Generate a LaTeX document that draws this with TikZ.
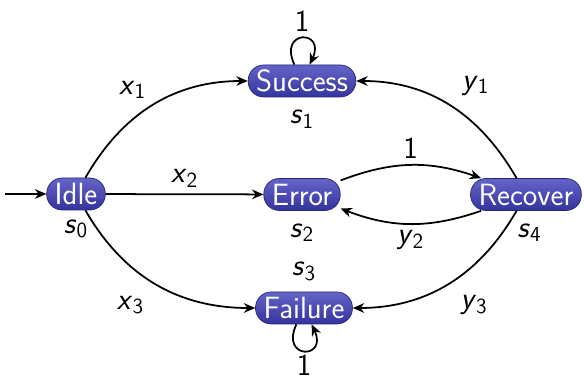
\documentclass[tikz,border=0pt]{standalone}
\usetikzlibrary{arrows.meta, positioning}
\newcommand{\sv}[2]{\textit{#1}\textsubscript{#2}}
\definecolor{sttop}{RGB}{100,100,200}
\definecolor{stbot}{RGB}{52,52,158}
\definecolor{stline}{RGB}{38,38,118}

\begin{document}
\begin{tikzpicture}[
    >={Stealth[length=6.5pt, width=5.5pt]},
    font=\fontsize{17.5}{20}\selectfont\sffamily,
    state/.style={draw=stline, rounded corners=0.31cm, top color=sttop,
                  bottom color=stbot, text=white, minimum height=0.64cm,
                  inner xsep=0.16cm, inner ysep=0pt},
    tag/.style={inner sep=1pt},
    every edge/.style={draw, ->, line width=1pt},
    node distance=6pt
  ]
  \useasboundingbox (0,0) rectangle (11.68,7.62);

  \node[state] (idle) at (1.52,3.74) {Idle};
  \node[state] (success) at (6.04,6.00) {Success};
  \node[state] (error) at (6.04,3.73) {Error};
  \node[state] (recover) at (10.52,3.73) {Recover};
  \node[state] (failure) at (6.08,1.46) {Failure};
  \coordinate (start) at (0.1,3.74);

  \node[tag, below=4pt of idle] (s0) {\sv{s}{0}};
  \node[tag, below=of success] (s1) {\sv{s}{1}};
  \node[tag, below=of error] (s2) {\sv{s}{2}};
  \node[tag, above=5pt of failure] (s3) {\sv{s}{3}};
  \node[tag, below=of recover, xshift=2pt] (s4) {\sv{s}{4}};

  \draw[->, line width=1pt] (start) -- (idle);
  \draw (idle) edge[out=60, in=180]
    node[pos=0.5, above left] {\sv{x}{1}} (success);
  \draw (idle) edge
    node[above] {\sv{x}{2}} (error);
  \draw (idle) edge[out=-60, in=180]
    node[pos=0.5, below left, xshift=-3pt, yshift=-3pt] {\sv{x}{3}} (failure);
  \draw (recover) edge[out=120, in=0]
    node[pos=0.5, above right, xshift=3pt, yshift=2pt] {\sv{y}{1}} (success);
  \draw (recover) edge[out=-120, in=0]
    node[pos=0.5, below right, xshift=3pt, yshift=-3pt] {\sv{y}{3}} (failure);
  \draw (error) edge[bend left=20]
    node[above] {1} (recover);
  \draw (recover) edge[bend left=20]
    node[below] {\sv{y}{2}} (error);
  % self loops
  \draw[->, line width=1pt] (success.115) .. controls +(115:0.78) and +(65:0.78)
    .. node[above] {1} (success.65);
  \draw[->, line width=1pt] (failure.-115) .. controls +(-115:0.78) and +(-65:0.78)
    .. node[below, inner ysep=2pt] {1} (failure.-65);
\end{tikzpicture}
\end{document}
